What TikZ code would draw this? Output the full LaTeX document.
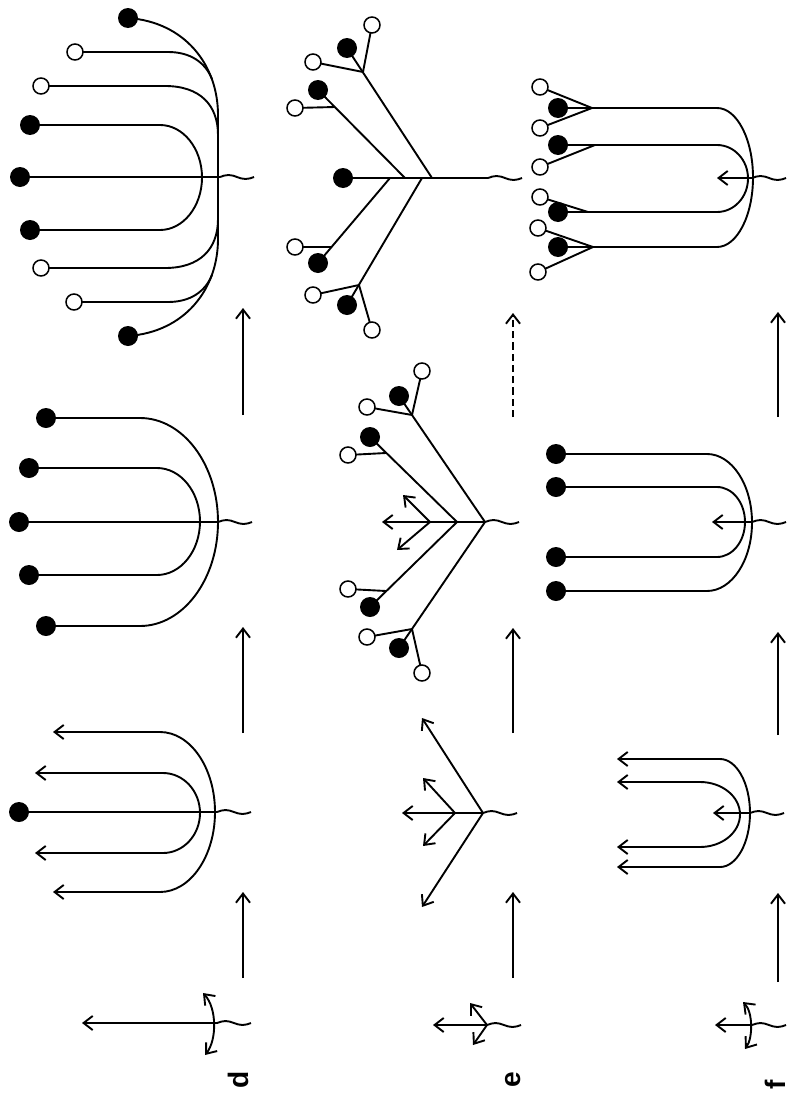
\documentclass[tikz,border=0pt]{standalone}
\usepackage{fontspec}
\setsansfont{Liberation Sans}
\usetikzlibrary{arrows.meta}

\begin{document}
\begin{tikzpicture}[x=0.025cm, y=-0.025cm, line width=1.35pt,
    >={Straight Barb[length=6.5pt,width=10pt]},
    bdot/.style={fill=black},
    odot/.style={fill=white, draw=black, line width=1.1pt},
    tag/.style={rotate=90, font=\sffamily\bfseries\fontsize{20}{22}\selectfont}]

    % Define loop: options, free end x, bend x, vertex x, top y, bottom y
    \def\uloop#1#2#3#4#5#6{%
        \draw[#1] (#2,#5) -- (#3,#5)
            .. controls ({#3+0.552*(#4-#3)},#5) and (#4,{#5+0.224*(#6-#5)}) .. (#4,{0.5*(#5+#6)})
            .. controls (#4,{#6-0.224*(#6-#5)}) and ({#3+0.552*(#4-#3)},#6) .. (#3,#6) -- (#2,#6);}

    % Define dot sizes
    \def\rb{10}
    \def\ro{8}

    \useasboundingbox (0,0) rectangle (796,1098);

    % Draw wavy roots
    \foreach \x/\y in {217/1023, 217/812, 218/522, 220/177,
                       487/1025, 483/813, 485/522, 488/178,
                       752/1025, 750/813, 752/522, 752/178}
        \draw (\x,\y) sin ++(8.5,-2) cos ++(8.5,2) sin ++(8.5,2) cos ++(8.5,-2);

    % Draw progression arrows
    \foreach \x/\a/\b in {243/978/892, 243/733/627, 243/415/308,
                          513/978/892, 513/733/628,
                          778/982/893, 778/735/632, 778/417/312}
        \draw[->] (\x,\a) -- (\x,\b);
    \draw[->, dash pattern=on 5pt off 3pt] (513,417) -- (513,313);

    % Row d
    \draw[->] (217,1023) -- (82,1023);
    \draw[<->] (203,993) .. controls (217,1008) and (217,1040) .. (205,1055);

    \draw (19,812) -- (217,812);
    \uloop{<->}{35}{163}{200}{773}{853}
    \uloop{<->}{53}{160}{215}{732}{892}

    \draw (19,522) -- (218,522);
    \uloop{-}{29}{157}{200}{468}{575}
    \uloop{-}{46}{140}{218}{418}{626}

    \draw (20,177) -- (220,177);
    \uloop{-}{30}{160}{202}{125}{230}
    \draw (128,18) .. controls (185,22) and (218,65) .. (218,115) -- (218,239)
        .. controls (218,289) and (185,332) .. (128,336);
    \draw (75,52) -- (168,52) .. controls (190,52) and (205,62) .. (212,79);
    \draw (41,86) -- (165,86) .. controls (200,86) and (218,105) .. (218,135);
    \draw (74,302) -- (168,302) .. controls (190,302) and (205,292) .. (212,275);
    \draw (41,268) -- (165,268) .. controls (200,268) and (218,249) .. (218,219);

    % Row e
    \coordinate (e1) at (487,1025);
    \draw[->] (e1) -- (433,1025);
    \draw[->] (e1) -- (470,1003);
    \draw[->] (e1) -- (473,1045);

    \coordinate (e2a) at (483,813);
    \coordinate (e2b) at (455,813);
    \draw[->] (e2a) -- (402,813);
    \draw[->] (e2a) -- (422,718);
    \draw[->] (e2a) -- (422,907);
    \draw[->] (e2b) -- (423,778);
    \draw[->] (e2b) -- (423,846);

    \coordinate (e3a) at (485,522);
    \coordinate (e3b) at (457,522);
    \coordinate (e3c) at (430,522);
    \draw[->] (e3a) -- (382,522);
    \draw[->] (e3c) -- (403,495);
    \draw[->] (e3c) -- (397,550);
    \draw (e3a) -- (399,396) (e3a) -- (399,648);
    \draw (e3b) -- (370,437) (e3b) -- (370,607);
    \draw (412,415) -- (367,407) (412,415) -- (422,371);
    \draw (412,629) -- (367,637) (412,629) -- (422,673);
    \draw (386,453) -- (348,455) (386,591) -- (348,589);

    \draw (343,178) -- (488,178);
    \draw (432,178) -- (347,48);
    \draw (363,72) -- (313,62) (363,72) -- (372,25);
    \draw (405,178) -- (318,90);
    \draw (335,107) -- (295,108);
    \draw (390,178) -- (318,263);
    \draw (332,247) -- (295,247);
    \draw (422,178) -- (347,305);
    \draw (359,285) -- (313,295) (359,285) -- (372,330);

    % Row f
    \draw[->] (752,1025) -- (715,1025);
    \draw[<->] (743,1002) .. controls (753,1012) and (753,1038) .. (745,1049);

    \draw[->] (750,813) -- (713,813);
    \uloop{<->}{617}{700}{740}{782}{847}
    \uloop{<->}{617}{720}{750}{759}{867}

    \draw[->] (752,522) -- (712,522);
    \uloop{-}{556}{717}{745}{487}{557}
    \uloop{-}{556}{707}{752}{454}{591}

    \draw[->] (752,178) -- (717,178);
    \uloop{-}{558}{717}{753}{108}{247}
    \uloop{-}{558}{717}{748}{145}{212}
    \draw (592,108) -- (540,87) (592,108) -- (540,128);
    \draw (595,145) -- (540,167) (588,212) -- (540,197);
    \draw (593,247) -- (538,228) (593,247) -- (538,272);

    % Draw dots
    \foreach \x/\y in {19/812, 19/522, 29/468, 29/575, 46/418, 46/626,
                       20/177, 30/125, 30/230, 128/18, 128/336,
                       399/396, 399/648, 370/437, 370/607,
                       343/178, 347/48, 318/90, 318/263, 347/305,
                       556/454, 556/591, 556/487, 556/557,
                       558/108, 558/145, 558/212, 558/247}
        \fill[bdot] (\x,\y) circle[radius=\rb];
    \foreach \x/\y in {75/52, 41/86, 41/268, 74/302,
                       367/407, 422/371, 367/637, 422/673, 348/455, 348/589,
                       313/62, 372/25, 295/108, 295/247, 313/295, 372/330,
                       540/87, 540/128, 540/167, 540/197, 538/228, 538/272}
        \filldraw[odot] (\x,\y) circle[radius=\ro];

    % Row labels
    \node[tag] (labd) at (238,1080) {d};
    \node[tag] (labe) at (513,1080) {e};
    \node[tag] (labf) at (775,1085) {f};

\end{tikzpicture}
\end{document}
